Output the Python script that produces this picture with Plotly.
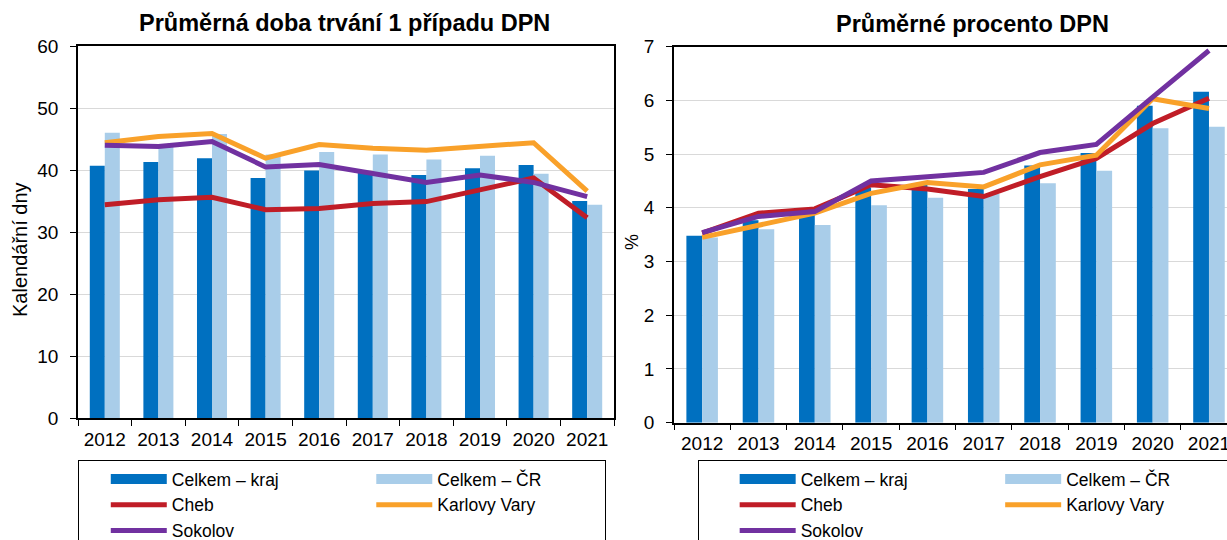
import plotly.graph_objects as go

roky = ['2012', '2013', '2014', '2015', '2016', '2017', '2018', '2019', '2020', '2021']

# prumerna doba trvani 1 pripadu DPN (kalendarni dny)
doba_kraj = [40.7, 41.3, 41.9, 38.7, 39.9, 39.6, 39.2, 40.3, 40.8, 35.0]
doba_cr = [46.0, 43.9, 45.8, 42.5, 42.9, 42.5, 41.7, 42.3, 39.4, 34.4]
doba_cheb = [34.4, 35.2, 35.6, 33.6, 33.8, 34.6, 34.9, 36.8, 38.7, 32.3]
doba_kv = [44.4, 45.4, 45.9, 41.9, 44.1, 43.5, 43.2, 43.8, 44.4, 36.6]
doba_sokolov = [44.0, 43.8, 44.6, 40.5, 40.9, 39.5, 38.0, 39.2, 38.0, 35.7]

# prumerne procento DPN
pct_kraj = [3.48, 3.77, 3.87, 4.38, 4.46, 4.35, 4.79, 5.02, 5.90, 6.16]
pct_cr = [3.45, 3.60, 3.68, 4.05, 4.19, 4.26, 4.46, 4.69, 5.48, 5.51]
pct_cheb = [3.53, 3.90, 3.98, 4.43, 4.35, 4.21, 4.58, 4.92, 5.57, 6.04]
pct_kv = [3.45, 3.68, 3.90, 4.27, 4.47, 4.39, 4.80, 4.98, 6.03, 5.85]
pct_sokolov = [3.54, 3.84, 3.93, 4.50, 4.58, 4.66, 5.03, 5.18, 6.06, 6.93]

MODRA = '#0070C0'
SVETLE_MODRA = '#A9CDE9'
CERVENA = '#C01D27'
ORANZOVA = '#F9A12A'
FIALOVA = '#7131A0'

FONT = 'Liberation Sans, Arial, sans-serif'
W, H = 1227, 540
NB = '\u00a0'


def add_panel(fig, kraj, cr, cheb, kv, sokolov, xa, ya, leg, pad_b):
	# nbsp padding keeps the two legend columns at the original spacing
	bars = [('Celkem – kraj', kraj, MODRA, 'a', NB * 18), ('Celkem – ČR', cr, SVETLE_MODRA, 'b', NB * pad_b)]
	for name, vals, color, grp, pad in bars:
		fig.add_trace(go.Bar(
			x=roky, y=vals, name=name, marker=dict(color=color, line=dict(width=0)),
			xaxis=xa, yaxis=ya, showlegend=False
		))
		# legend entry drawn as a wide block like in the original
		fig.add_trace(go.Scatter(
			x=[None], y=[None], name=name + pad, mode='lines', line=dict(color=color, width=11),
			xaxis=xa, yaxis=ya, legend=leg, legendgroup=leg + grp, hoverinfo='skip'
		))
	lines = [('Cheb', cheb, CERVENA, 'a'), ('Karlovy Vary', kv, ORANZOVA, 'b'),
		('Sokolov', sokolov, FIALOVA, 'a')]
	for name, vals, color, grp in lines:
		fig.add_trace(go.Scatter(
			x=roky, y=vals, name=name, mode='lines', line=dict(color=color, width=5),
			xaxis=xa, yaxis=ya, legend=leg, legendgroup=leg + grp
		))


fig = go.Figure()
add_panel(fig, doba_kraj, doba_cr, doba_cheb, doba_kv, doba_sokolov, 'x', 'y', 'legend', 12)
add_panel(fig, pct_kraj, pct_cr, pct_cheb, pct_kv, pct_sokolov, 'x2', 'y2', 'legend2', 11)

xcommon = dict(
	type='category', tickson='boundaries', ticks='outside', ticklen=6, tickcolor='black',
	showline=True, linecolor='black', linewidth=1.5, showgrid=False,
	tickfont=dict(size=19, color='black'), ticklabelstandoff=3
)
ycommon = dict(
	ticks='outside', ticklen=6, tickcolor='black', showline=True, linecolor='black',
	linewidth=1.5, gridcolor='#D9D9D9', gridwidth=1, zeroline=False,
	tickfont=dict(size=19, color='black'), ticklabelstandoff=8
)
legcommon = dict(
	orientation='h', xanchor='left', yanchor='top', y=1 - 460 / H,
	bordercolor='black', borderwidth=1, font=dict(size=17.5, color='black'),
	traceorder='grouped', tracegroupgap=0, itemwidth=56,
	bgcolor='white'
)

fig.update_layout(
	width=W, height=H,
	margin=dict(l=0, r=0, t=0, b=0, autoexpand=False),
	font=dict(family=FONT, color='black'),
	paper_bgcolor='white', plot_bgcolor='white',
	barmode='group', bargap=0.44, bargroupgap=0,
	xaxis=dict(xcommon, domain=[78 / W, 614 / W], range=[-0.5, 9.5], mirror=True, anchor='y'),
	yaxis=dict(ycommon, domain=[1 - 418 / H, 1 - 46 / H], range=[0, 60], dtick=10, mirror=True,
		anchor='x'),
	xaxis2=dict(xcommon, domain=[674 / W, 1], range=[-0.5, 9.32], mirror=True, anchor='y2'),
	yaxis2=dict(ycommon, domain=[1 - 422.7 / H, 1 - 46.7 / H], range=[0, 7], dtick=1,
		anchor='x2'),
	legend=dict(legcommon, x=78 / W, title=dict(text=NB * 4, side='left', font=dict(size=16))),
	legend2=dict(legcommon, x=698 / W, title=dict(text=NB * 6, side='left', font=dict(size=16))),
	annotations=[
		dict(text='<b>Průměrná doba trvání 1 případu DPN</b>', x=344 / W, y=1 - 23 / H,
			xref='paper', yref='paper', showarrow=False, xanchor='center', yanchor='middle',
			font=dict(size=23.5)),
		dict(text='<b>Průměrné procento DPN</b>', x=972 / W, y=1 - 24 / H,
			xref='paper', yref='paper', showarrow=False, xanchor='center', yanchor='middle',
			font=dict(size=23.5)),
		dict(text='Kalendářní dny', x=20 / W, y=1 - 250 / H, textangle=-90,
			xref='paper', yref='paper', showarrow=False, xanchor='center', yanchor='middle',
			font=dict(size=20)),
		dict(text='%', x=632 / W, y=1 - 242 / H, textangle=-90,
			xref='paper', yref='paper', showarrow=False, xanchor='center', yanchor='middle',
			font=dict(size=18)),
	]
)

fig.write_html("out.html", config={'displayModeBar': False},
	post_script="document.body.style.margin = '0px';")
